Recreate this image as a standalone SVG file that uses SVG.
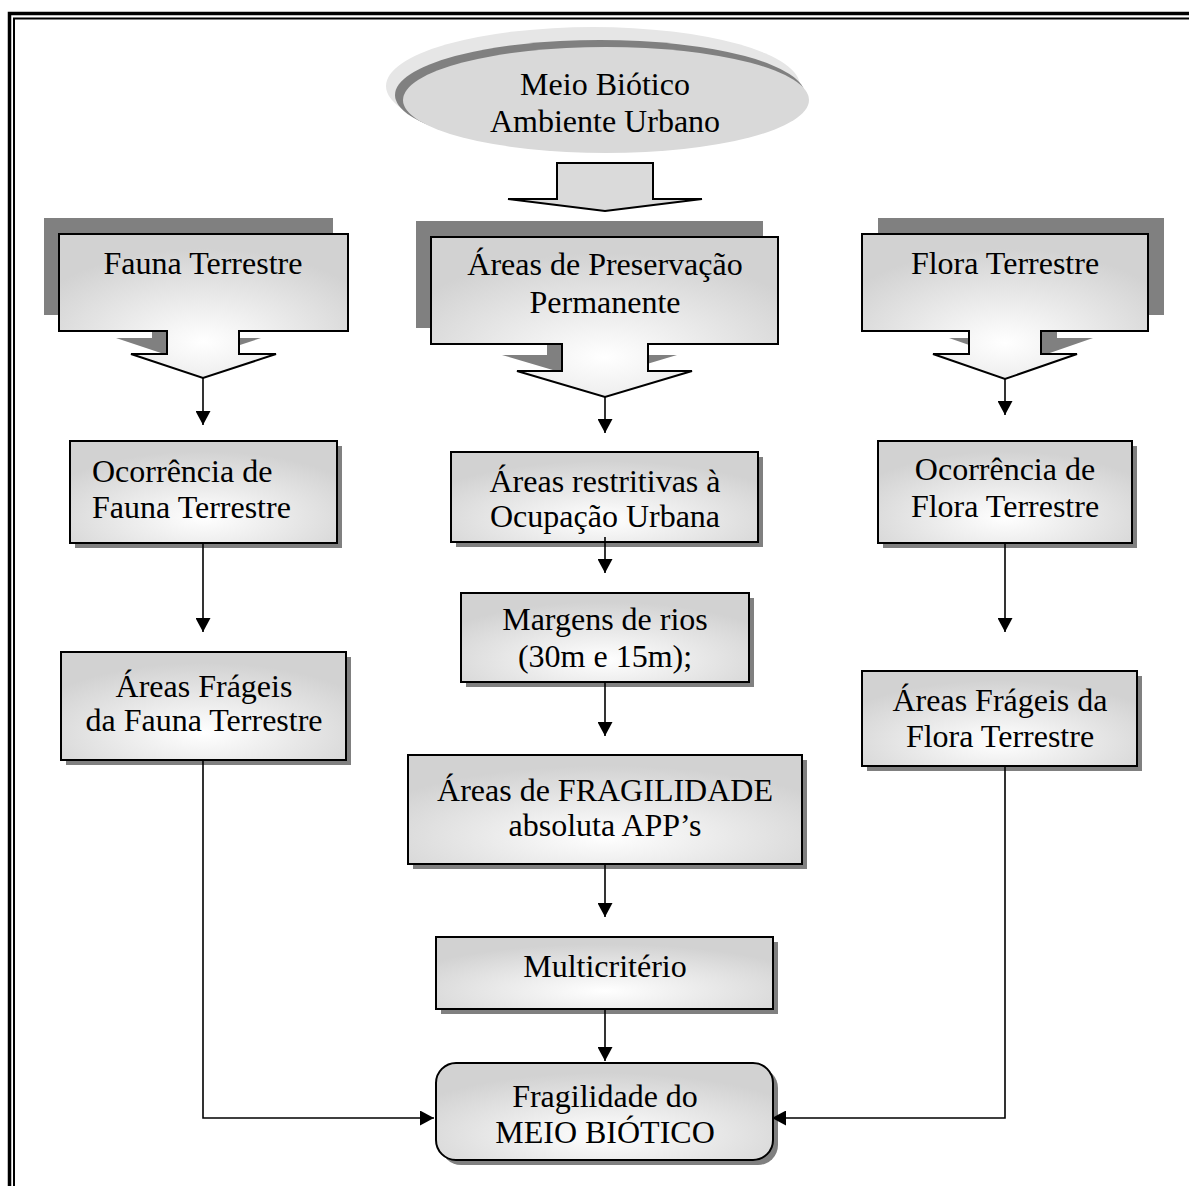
<svg xmlns="http://www.w3.org/2000/svg" width="1189" height="1186" viewBox="0 0 1189 1186">
  <defs>
    <radialGradient id="softFill" cx="50%" cy="75%" r="65%" fx="50%" fy="75%">
      <stop offset="0" stop-color="#ffffff"/>
      <stop offset="1" stop-color="#d2d2d2"/>
    </radialGradient>
    <marker id="arrow" markerUnits="userSpaceOnUse" markerWidth="15" markerHeight="15" refX="14" refY="7.5" orient="auto">
      <path d="M0,0 L14,7.5 L0,15 Z" fill="#000"/>
    </marker>
    <style>
      text { font-family: "Liberation Serif", "Times New Roman", serif; font-size: 32px; fill: #000; }
      .mid { text-anchor: middle; }
      .box { fill: url(#softFill); stroke: #000; stroke-width: 2; }
      .shadow { fill: #808080; }
      .conn { fill: none; stroke: #000; stroke-width: 1.6; marker-end: url(#arrow); }
      .frame { stroke: #000; fill: none; }
    </style>
  </defs>

  <rect width="1189" height="1186" fill="#fff"/>

  <!-- double page frame (top and left edges) -->
  <g id="frame">
    <path class="frame" stroke-width="3.5" d="M9.5,1186 V13.5 H1189"/>
    <path class="frame" stroke-width="2" d="M14,1186 V18.5 H1189"/>
  </g>

  <!-- title ellipse -->
  <g id="title">
    <ellipse cx="593" cy="86" rx="207" ry="59" fill="#e6e6e6"/>
    <ellipse cx="600" cy="95" rx="205" ry="55" fill="#808080"/>
    <ellipse cx="606" cy="100" rx="203" ry="53" fill="#d9d9d9"/>
    <text class="mid" x="605" y="95">Meio Biótico</text>
    <text class="mid" x="605" y="132">Ambiente Urbano</text>
  </g>

  <!-- wide block arrow under the title -->
  <g id="title-arrow">
    <path d="M557,163 H653 V199 H702 L605,211 L508,199 H557 Z" fill="#dadada" stroke="#000" stroke-width="2"/>
  </g>

  <!-- callout: Fauna Terrestre -->
  <g id="fauna">
    <path class="shadow" transform="translate(-15,-16)" d="M59,234 H348 V331 H239 V354 H276 L203,378 L131,354 H167 V331 H59 Z"/>
    <path class="box" d="M59,234 H348 V331 H239 V354 H276 L203,378 L131,354 H167 V331 H59 Z"/>
    <text class="mid" x="203" y="274">Fauna Terrestre</text>
  </g>

  <!-- callout: Áreas de Preservação Permanente -->
  <g id="app">
    <path class="shadow" transform="translate(-15,-16)" d="M431,237 H778 V344 H648 V371 H692 L605,397 L517,371 H562 V344 H431 Z"/>
    <path class="box" d="M431,237 H778 V344 H648 V371 H692 L605,397 L517,371 H562 V344 H431 Z"/>
    <text class="mid" x="605" y="275">Áreas de Preservação</text>
    <text class="mid" x="605" y="313">Permanente</text>
  </g>

  <!-- callout: Flora Terrestre -->
  <g id="flora">
    <path class="shadow" transform="translate(16,-16)" d="M862,234 H1148 V331 H1041 V354 H1077 L1005,379 L933,354 H969 V331 H862 Z"/>
    <path class="box" d="M862,234 H1148 V331 H1041 V354 H1077 L1005,379 L933,354 H969 V331 H862 Z"/>
    <text class="mid" x="1005" y="274">Flora Terrestre</text>
  </g>

  <!-- left column -->
  <g id="fauna-occ">
    <rect class="shadow" x="75" y="446" width="267" height="102"/>
    <rect class="box" x="70" y="441" width="267" height="102"/>
    <text x="92" y="482">Ocorrência de</text>
    <text x="92" y="518">Fauna Terrestre</text>
  </g>
  <g id="fauna-fragile">
    <rect class="shadow" x="66" y="657" width="285" height="108"/>
    <rect class="box" x="61" y="652" width="285" height="108"/>
    <text class="mid" x="204" y="697">Áreas Frágeis</text>
    <text class="mid" x="204" y="731">da Fauna Terrestre</text>
  </g>

  <!-- centre column -->
  <g id="restrict">
    <rect class="shadow" x="456" y="457" width="307" height="90"/>
    <rect class="box" x="451" y="452" width="307" height="90"/>
    <text class="mid" x="605" y="492">Áreas restritivas à</text>
    <text class="mid" x="605" y="527">Ocupação Urbana</text>
  </g>
  <g id="margins">
    <rect class="shadow" x="466" y="598" width="288" height="89"/>
    <rect class="box" x="461" y="593" width="288" height="89"/>
    <text class="mid" x="605" y="630">Margens de rios</text>
    <text class="mid" x="605" y="667">(30m e 15m);</text>
  </g>
  <g id="absolute">
    <rect class="shadow" x="413" y="760" width="394" height="109"/>
    <rect class="box" x="408" y="755" width="394" height="109"/>
    <text class="mid" x="605" y="801">Áreas de FRAGILIDADE</text>
    <text class="mid" x="605" y="836">absoluta APP’s</text>
  </g>
  <g id="multi">
    <rect class="shadow" x="441" y="942" width="337" height="72"/>
    <rect class="box" x="436" y="937" width="337" height="72"/>
    <text class="mid" x="605" y="977">Multicritério</text>
  </g>
  <g id="result">
    <rect class="shadow" x="441" y="1068" width="337" height="97" rx="20" ry="20"/>
    <rect class="box" x="436" y="1063" width="337" height="97" rx="20" ry="20"/>
    <text class="mid" x="605" y="1107">Fragilidade do</text>
    <text class="mid" x="605" y="1143">MEIO BIÓTICO</text>
  </g>

  <!-- right column -->
  <g id="flora-occ">
    <rect class="shadow" x="883" y="446" width="254" height="102"/>
    <rect class="box" x="878" y="441" width="254" height="102"/>
    <text class="mid" x="1005" y="480">Ocorrência de</text>
    <text class="mid" x="1005" y="517">Flora Terrestre</text>
  </g>
  <g id="flora-fragile">
    <rect class="shadow" x="867" y="676" width="275" height="95"/>
    <rect class="box" x="862" y="671" width="275" height="95"/>
    <text class="mid" x="1000" y="711">Áreas Frágeis da</text>
    <text class="mid" x="1000" y="747">Flora Terrestre</text>
  </g>

  <!-- connectors -->
  <g id="connectors">
    <path class="conn" d="M203,378 V425"/>
    <path class="conn" d="M203,543 V632"/>
    <path class="conn" d="M203,760 V1118 H434"/>
    <path class="conn" d="M605,397 V433"/>
    <path class="conn" d="M605,537 V573"/>
    <path class="conn" d="M605,682 V736"/>
    <path class="conn" d="M605,864 V917"/>
    <path class="conn" d="M605,1009 V1061"/>
    <path class="conn" d="M1005,379 V415"/>
    <path class="conn" d="M1005,543 V632"/>
    <path class="conn" d="M1005,766 V1118 H772"/>
  </g>
</svg>
